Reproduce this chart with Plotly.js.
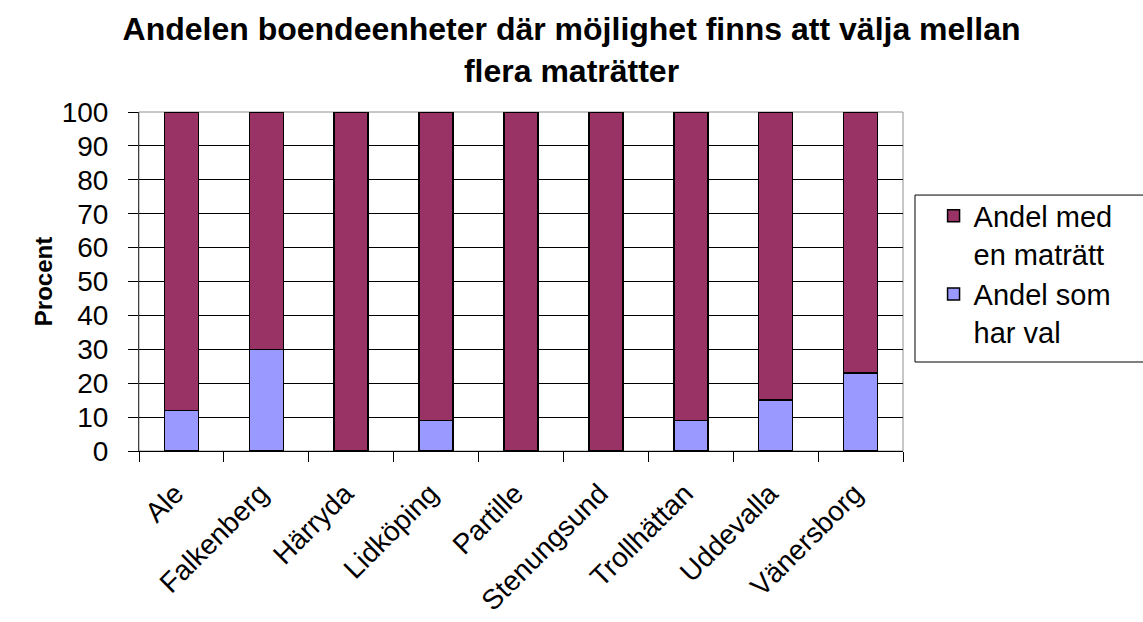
<!DOCTYPE html>
<html><head><meta charset="utf-8">
<script src="https://cdn.plot.ly/plotly-3.0.1.min.js"></script>
<style>body{margin:0;background:#fff}#c{width:1143px;height:622px}</style>
</head><body><div id="c"></div>
<script>
var categories = ["Ale","Falkenberg","Härryda","Lidköping","Partille","Stenungsund","Trollhättan","Uddevalla","Vänersborg"];
var harVal = [12, 30, 0, 9, 0, 0, 9, 15, 23];
var enMatratt = [88, 70, 100, 91, 100, 100, 91, 85, 77];
var seriesNames = ["Andel som<br>har val", "Andel med<br>en maträtt"];
var yTicks = [0,10,20,30,40,50,60,70,80,90,100];

var font = "Liberation Sans, Arial, sans-serif";
var traces = [
  {type:"bar", x:categories, y:harVal, name:seriesNames[0],
   marker:{color:"#9999FF", line:{color:"#000", width:1.5}}},
  {type:"bar", x:categories, y:enMatratt, name:seriesNames[1],
   marker:{color:"#993366", line:{color:"#000", width:1.5}}}
];
var layout = {
  width:1143, height:622,
  margin:{l:139, r:240, t:112, b:171},
  paper_bgcolor:"#fff", plot_bgcolor:"#fff",
  barmode:"stack", bargap:0.6,
  font:{family:font, size:28, color:"#000"},
  title:{text:"<b>Andelen boendeenheter där möjlighet finns att välja mellan<br>flera maträtter</b>",
         x:0.5, xref:"container", xanchor:"center", y:0.935, yref:"container", yanchor:"middle",
         font:{family:font, size:32, color:"#000"}},
  xaxis:{type:"category", tickangle:-45, ticks:"outside", tickson:"boundaries", ticklen:10,
         tickcolor:"#000", showline:true, linecolor:"#000", linewidth:1, showgrid:false,
         tickfont:{family:font, size:28}, ticklabelstandoff:14, ticklabelshift:-6},
  yaxis:{range:[0,100], tickvals:yTicks, ticks:"outside", ticklen:10, tickcolor:"#000",
         showgrid:true, gridcolor:"#000", gridwidth:1, showline:true, linecolor:"#404040",
         zeroline:false, tickfont:{family:font, size:28}, ticklabelstandoff:14,
         title:{text:"<b>Procent</b>", font:{family:font, size:24}, standoff:2}},
  legend:{x:1.04, xanchor:"left", y:0.769, yanchor:"top", borderwidth:0,
          bgcolor:"rgba(0,0,0,0)", font:{family:font, size:29}, traceorder:"reversed",
          itemwidth:30, valign:"top", tracegroupgap:12},
  shapes:[
    {type:"rect", xref:"paper", yref:"paper", x0:0, x1:1, y0:0, y1:1,
     line:{color:"#909090", width:1}, layer:"below"},
    {type:"rect", xref:"paper", yref:"paper", x0:1.0157, x1:1.33, y0:0.2625, y1:0.755,
     line:{color:"#000", width:1}, fillcolor:"rgba(0,0,0,0)"}
  ]
};
Plotly.newPlot("c", traces, layout, {displayModeBar:false});
</script></body></html>
